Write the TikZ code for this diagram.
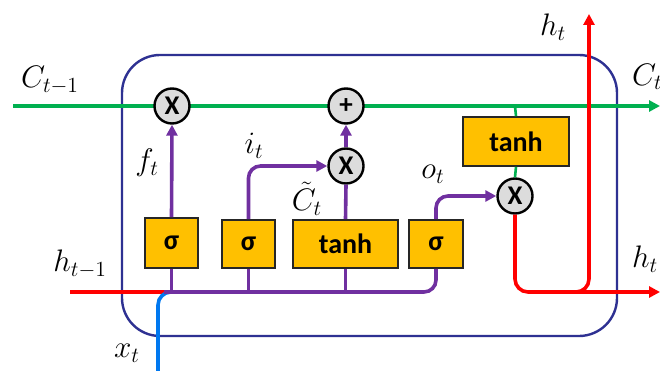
\documentclass[tikz,border=0pt]{standalone}
\usepackage{fontspec}
\usepackage{graphicx}
\setsansfont{Carlito}
\usetikzlibrary{arrows.meta}
\definecolor{cgreen}{RGB}{0,176,80}
\definecolor{cred}{RGB}{255,0,0}
\definecolor{cpurple}{RGB}{112,48,160}
\definecolor{cblue}{RGB}{0,120,240}
\definecolor{cnavy}{RGB}{46,49,146}
\definecolor{cgold}{RGB}{255,192,0}
\definecolor{cgray}{RGB}{220,220,220}
\newcommand{\biglab}[1]{\scalebox{1.5}{$#1$}}
\begin{document}
\begin{tikzpicture}[x=1pt,y=-1pt,
  tip/.style={-{Triangle[length=11pt,width=11pt]}},
  gatebox/.style={draw=black!85,line width=1.6pt,fill=cgold,inner sep=0pt,
     font=\sffamily\bfseries\fontsize{28}{28}\selectfont},
  opcirc/.style={circle,draw=black,line width=2.4pt,fill=cgray,minimum size=35pt,inner sep=0pt,
     font=\sffamily\bfseries\fontsize{27}{27}\selectfont},
  lab/.style={font=\fontsize{20}{20}\selectfont,inner sep=0pt},
  gline/.style={cgreen,line width=3.6pt},
  pline/.style={cpurple,line width=3.6pt},
  rline/.style={cred,line width=3.6pt},
]
\useasboundingbox (0,0) rectangle (660,371);
% cell border
\draw[cnavy,line width=2.4pt,rounded corners=38pt] (122,55) rectangle (617,336);
% gate boxes
\node[gatebox,minimum width=53pt,minimum height=50pt] (s1) at (171.5,243) {σ};
\node[gatebox,minimum width=53pt,minimum height=48pt] (s2) at (248.5,244) {σ};
\node[gatebox,minimum width=105pt,minimum height=48pt] (tm) at (345.5,244) {tanh};
\node[gatebox,minimum width=54pt,minimum height=48pt] (s4) at (436,244) {σ};
\node[gatebox,minimum width=106pt,minimum height=49pt] (tt) at (516,141.5) {tanh};
% coordinates
\coordinate (cin) at (13,106);
\coordinate (cout) at (660,106);
\coordinate (ctap) at (515,106);
\coordinate (hin) at (70,292);
\coordinate (hjoin) at (164,292);
\coordinate (xin) at (158,371);
\coordinate (bstart) at (180,292);
\coordinate (b1) at (171.5,292);
\coordinate (b2) at (248.5,292);
\coordinate (b3) at (345.5,292);
\coordinate (hout) at (660,292);
\coordinate (hsplit) at (572,292);
\coordinate (htop) at (589,14);
% cell state line
\draw[gline,tip] (cin) -- (cout);
\draw[cgreen,line width=2.6pt] (ctap) -- (tt.north);
% operator circles
\node[opcirc] (m1) at (172,106) {X};
\node[opcirc] (pl) at (346,106) {+};
\node[opcirc] (m2) at (346,166) {X};
\node[opcirc] (m3) at (515,196) {X};
\draw[cgreen,line width=2.6pt] (tt.south) -- (m3.north);
% inputs
\draw[rline] (hin) -- (hjoin);
\draw[cblue,line width=3.6pt,rounded corners=13pt] (xin) |- (bstart);
% purple bus
\draw[pline,rounded corners=12pt] (hjoin) -| (s4.south);
\draw[pline] (b1) -- (s1.south);
\draw[pline] (b2) -- (s2.south);
\draw[pline] (b3) -- (tm.south);
\draw[pline,tip] (s1.north) -- (m1.south);
\draw[pline,tip,rounded corners=12pt] (s2.north) |- (m2.west);
\draw[pline] (tm.north) -- (m2.south);
\draw[pline,tip] (m2.north) -- (pl.south);
\draw[pline,tip,rounded corners=12pt] (s4.north) |- (m3.west);
% output
\draw[rline,tip,rounded corners=13pt] (m3.south) |- (hout);
\draw[rline,tip,rounded corners=13pt] (hsplit) -| (htop);
% labels
\node[lab] (lc0) at (50,80) {\biglab{C_{t-1}}};
\node[lab,anchor=west] (lc1) at (632,77) {\biglab{C_t}};
\node[lab] (lht) at (553,27) {\biglab{h_t}};
\node[lab,anchor=west] (lhr) at (632,259) {\biglab{h_t}};
\node[lab] (lh0) at (80,264) {\biglab{h_{t-1}}};
\node[lab] (lx) at (127,353) {\biglab{x_t}};
\node[lab] (lf) at (147,163) {\biglab{f_t}};
\node[lab] (li) at (254,146) {\biglab{i_t}};
\node[lab] (lct) at (307,199) {\biglab{\tilde{C}_t}};
\node[lab] (lo) at (433,174) {\biglab{o_t}};
\end{tikzpicture}
\end{document}
